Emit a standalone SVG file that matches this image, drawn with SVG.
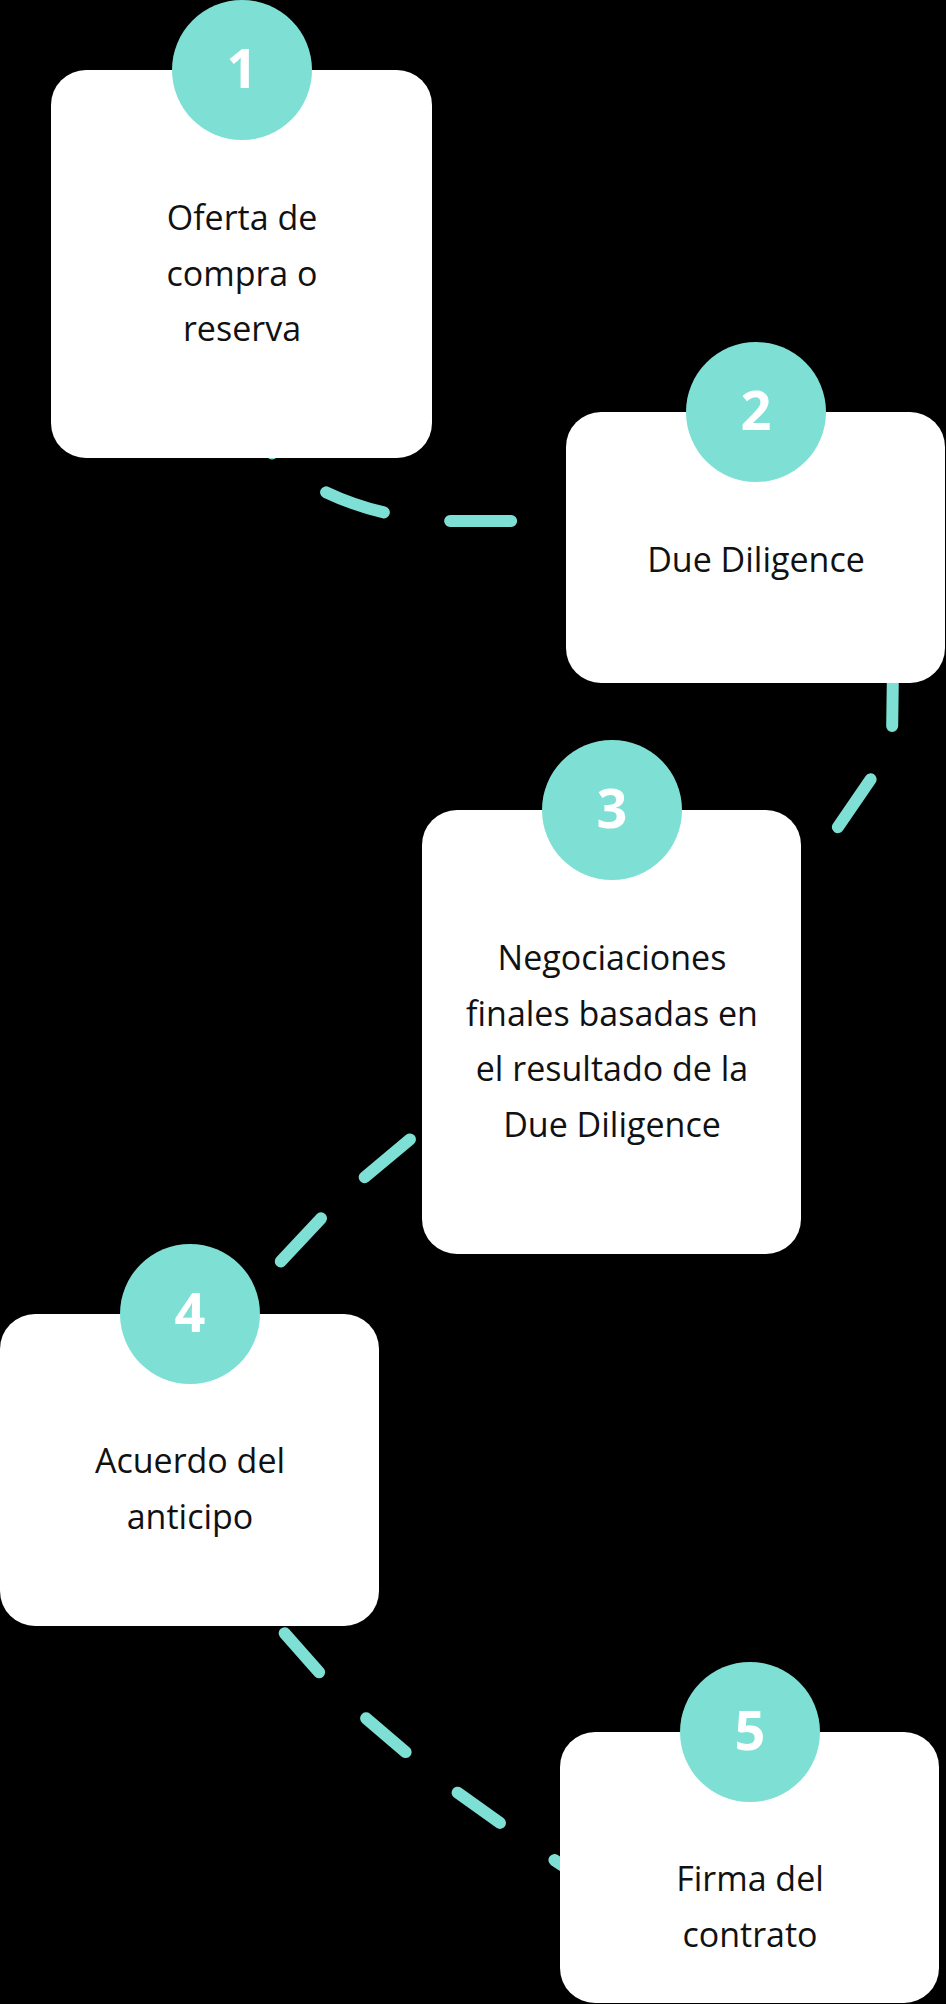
<svg xmlns="http://www.w3.org/2000/svg" width="946" height="2004" viewBox="0 0 946 2004">
<style>
.box{fill:#ffffff}
.badge{fill:#7edfd4}
.num{font-family:"Open Sans","Noto Sans",sans-serif;font-weight:700;font-size:54px;fill:#ffffff;text-anchor:middle}
.lbl{font-family:"Open Sans","Noto Sans",sans-serif;font-size:34px;fill:#111111;text-anchor:middle}
.conn{fill:none;stroke:#7edfd4;stroke-width:12;stroke-linecap:round;stroke-linejoin:round}
</style>
<rect x="0" y="0" width="946" height="2004" fill="#000000"/>
<g id="connectors">
<path class="conn" d="M 271 452 C 298 485 360 515 440 521 L 580 521" stroke-dasharray="61 67" stroke-dashoffset="59"/>
<path class="conn" d="M 893 668 L 892 738 Q 890 752 879 767 L 808 871" stroke-dasharray="58 59"/>
<path class="conn" d="M 456 1101 L 341 1197 L 226 1320" stroke-dasharray="59 60" stroke-dashoffset="59"/>
<path class="conn" d="M 271.4 1618.3 L 340.6 1696.5 L 430.4 1773.3 L 525.3 1841 L 600 1890" stroke-dasharray="52 66" stroke-dashoffset="-20"/>
</g>
<g id="step1">
<rect class="box" x="51" y="70" width="381" height="388" rx="35"/>
<circle class="badge" cx="242" cy="70" r="70"/>
<text class="num" x="242" y="88">1</text>
<text class="lbl" x="242" y="230">Oferta de</text>
<text class="lbl" x="242" y="285.5">compra o</text>
<text class="lbl" x="242" y="341">reserva</text>
</g>
<g id="step2">
<rect class="box" x="566" y="412" width="379" height="271" rx="35"/>
<circle class="badge" cx="756" cy="412" r="70"/>
<text class="num" x="756" y="430">2</text>
<text class="lbl" x="756" y="572">Due Diligence</text>
</g>
<g id="step3">
<rect class="box" x="422" y="810" width="379" height="444" rx="35"/>
<circle class="badge" cx="612" cy="810" r="70"/>
<text class="num" x="612" y="828">3</text>
<text class="lbl" x="612" y="970">Negociaciones</text>
<text class="lbl" x="612" y="1025.5">finales basadas en</text>
<text class="lbl" x="612" y="1081">el resultado de la</text>
<text class="lbl" x="612" y="1137">Due Diligence</text>
</g>
<g id="step4">
<rect class="box" x="0" y="1314" width="379" height="312" rx="35"/>
<circle class="badge" cx="190" cy="1314" r="70"/>
<text class="num" x="190" y="1332">4</text>
<text class="lbl" x="190" y="1473">Acuerdo del</text>
<text class="lbl" x="190" y="1529">anticipo</text>
</g>
<g id="step5">
<rect class="box" x="560" y="1732" width="379" height="271" rx="35"/>
<circle class="badge" cx="750" cy="1732" r="70"/>
<text class="num" x="750" y="1750">5</text>
<text class="lbl" x="750" y="1891">Firma del</text>
<text class="lbl" x="750" y="1947">contrato</text>
</g>
</svg>
